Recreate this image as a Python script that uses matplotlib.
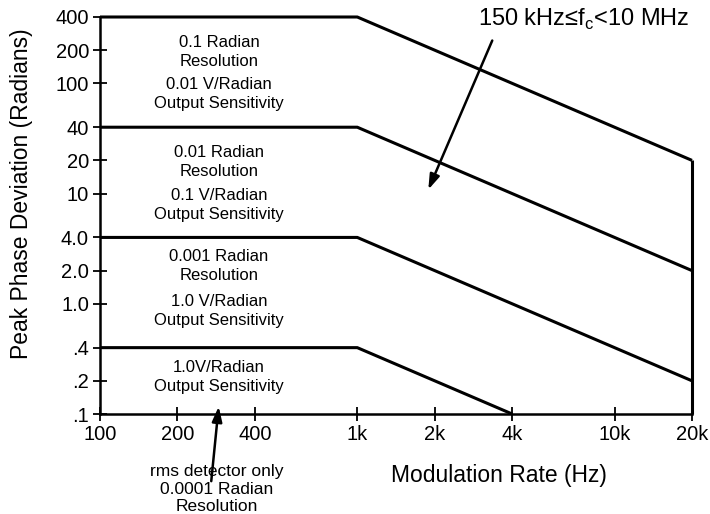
import matplotlib
matplotlib.use("Agg")
import matplotlib.pyplot as plt

plt.rcParams["font.family"] = ["Liberation Sans", "DejaVu Sans"]

# modulation rate (Hz) breakpoints and peak deviation for each range
rate_hi = [100, 1000, 20000]
dev_01 = [400, 400, 20]
dev_001 = [40, 40, 2]
dev_0001 = [4, 4, 0.2]
rate_lo = [100, 1000, 4000]
dev_00001 = [0.4, 0.4, 0.1]
edge_rate = [20000, 20000]
edge_dev = [0.1, 20]

xticks = [100, 200, 400, 1000, 2000, 4000, 10000, 20000]
xticklabels = ["100", "200", "400", "1k", "2k", "4k", "10k", "20k"]
yticks = [400, 200, 100, 40, 20, 10, 4, 2, 1, 0.4, 0.2, 0.1]
yticklabels = ["400", "200", "100", "40", "20", "10", "4.0", "2.0", "1.0", ".4", ".2", ".1"]

notes = [
    (52, "0.1 Radian\nResolution"),
    (94, "0.01 V/Radian\nOutput Sensitivity"),
    (162, "0.01 Radian\nResolution"),
    (205, "0.1 V/Radian\nOutput Sensitivity"),
    (266, "0.001 Radian\nResolution"),
    (311, "1.0 V/Radian\nOutput Sensitivity"),
    (377, "1.0V/Radian\nOutput Sensitivity"),
]

fig = plt.figure(figsize=(7.1, 5.14), dpi=100)
ax = fig.add_axes([100 / 710, 1 - 414 / 514, 592 / 710, 397 / 514])
ax.set_xscale("log")
ax.set_yscale("log")
ax.set_xlim(100, 20000)
ax.set_ylim(0.1, 400)

lw = 2.2
for xs, ys in [(rate_hi, dev_01), (rate_hi, dev_001), (rate_hi, dev_0001),
               (rate_lo, dev_00001), (edge_rate, edge_dev)]:
    ax.plot(xs, ys, color="black", lw=lw, clip_on=False, solid_capstyle="butt")

ax.spines["top"].set_visible(False)
ax.spines["right"].set_visible(False)
ax.spines["left"].set_linewidth(1.8)
ax.spines["bottom"].set_linewidth(1.8)

ax.set_xticks(xticks)
ax.set_xticklabels(xticklabels)
ax.set_yticks(yticks)
ax.set_yticklabels(yticklabels)
ax.minorticks_off()
ax.tick_params(direction="inout", length=10, width=1.3, labelsize=14.5, pad=3)

ax.set_ylabel("Peak Phase Deviation (Radians)", fontsize=16.5)
ax.yaxis.set_label_coords(-0.113, 0.554)
ax.set_xlabel("Modulation Rate (Hz)", fontsize=16.5)
ax.xaxis.set_label_coords(0.674, -0.125)

for ypix, txt in notes:
    ax.text(219 / 710, 1 - ypix / 514, txt, transform=fig.transFigure,
            ha="center", va="center", fontsize=12, linespacing=1.3)

ax.text(584 / 710, 1 - 19 / 514, "150 kHz\u2264f$_\\mathregular{c}$<10 MHz",
        transform=fig.transFigure, ha="center", va="center", fontsize=17)
ax.annotate("", xy=(1870, 10.3), xytext=(3380, 258),
            arrowprops=dict(arrowstyle="-|>,head_length=0.9,head_width=0.3",
                            color="black", lw=1.8))

ax.text(217 / 710, 1 - 489 / 514, "rms detector only\n0.0001 Radian\nResolution",
        transform=fig.transFigure, ha="center", va="center", fontsize=12.5,
        linespacing=1.2)
ax.annotate("", xy=(290, 0.124), xytext=(270, 0.0232),
            arrowprops=dict(arrowstyle="-|>,head_length=0.9,head_width=0.3",
                            color="black", lw=1.8), annotation_clip=False)

fig.savefig("out.png", dpi=100)
